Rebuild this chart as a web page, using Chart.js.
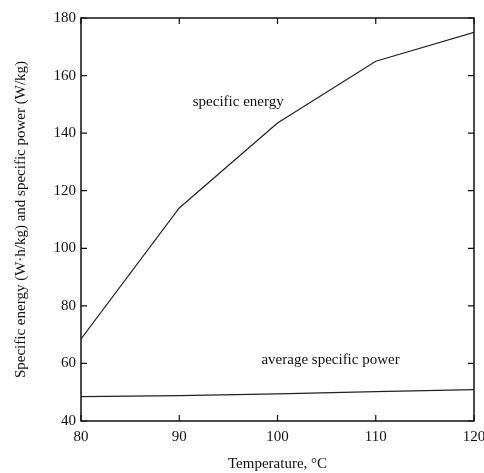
<!DOCTYPE html>
<html>
<head>
<meta charset="utf-8">
<script src="https://cdn.jsdelivr.net/npm/chart.js@4.4.1/dist/chart.umd.min.js"></script>
<style>
  html, body { margin: 0; padding: 0; background: #fff; }
  #wrap { width: 484px; height: 473px; }
</style>
</head>
<body>
<div id="wrap"><canvas id="battery-chart"></canvas></div>
<script>
const temperatures = [80, 90, 100, 110, 120];
const specificEnergy = [68.5, 114, 143.5, 165, 175];
const specificPower = [48.5, 48.8, 49.4, 50.2, 50.9];
const xTicks = [80, 90, 100, 110, 120];
const yTicks = [40, 60, 80, 100, 120, 140, 160, 180];

Chart.defaults.font.family = "'Liberation Serif', 'DejaVu Serif', serif";
Chart.defaults.color = "#111";

const toPoints = (ys) => temperatures.map((t, i) => ({ x: t, y: ys[i] }));

// frame round the plot plus short inward ticks on all four sides
const framePlugin = {
    id: "frame",
    afterDatasetsDraw(chart) {
        const { ctx, chartArea: a, scales } = chart;
        const len = 6;
        ctx.save();
        ctx.strokeStyle = "#111";
        ctx.lineWidth = 1.5;
        ctx.strokeRect(a.left, a.top, a.right - a.left, a.bottom - a.top);
        ctx.lineWidth = 1.2;
        ctx.beginPath();
        xTicks.forEach(v => {
            const px = scales.x.getPixelForValue(v);
            ctx.moveTo(px, a.bottom); ctx.lineTo(px, a.bottom - len);
            ctx.moveTo(px, a.top); ctx.lineTo(px, a.top + len);
        });
        yTicks.forEach(v => {
            const py = scales.y.getPixelForValue(v);
            ctx.moveTo(a.left, py); ctx.lineTo(a.left + len, py);
            ctx.moveTo(a.right, py); ctx.lineTo(a.right - len, py);
        });
        ctx.stroke();
        ctx.restore();
    }
};

// curve names written next to the lines
const labelPlugin = {
    id: "curveLabels",
    afterDatasetsDraw(chart, args, opts) {
        const { ctx, scales } = chart;
        ctx.save();
        ctx.font = "15px 'Liberation Serif', serif";
        ctx.fillStyle = "#111";
        ctx.textAlign = "center";
        ctx.textBaseline = "middle";
        opts.items.forEach(it => {
            ctx.fillText(it.text, scales.x.getPixelForValue(it.x), scales.y.getPixelForValue(it.y));
        });
        ctx.restore();
    }
};

const ctx = document.getElementById("battery-chart");

new Chart(ctx, {
    type: "line",
    data: {
        datasets: [
            {
                label: "specific energy",
                data: toPoints(specificEnergy),
                borderColor: "#222",
                borderWidth: 1.2,
                pointRadius: 0,
                tension: 0
            },
            {
                label: "average specific power",
                data: toPoints(specificPower),
                borderColor: "#222",
                borderWidth: 1.2,
                pointRadius: 0,
                tension: 0
            }
        ]
    },
    options: {
        responsive: true,
        maintainAspectRatio: false,
        animation: false,
        layout: {
            padding: { top: 18, right: 10, left: 0, bottom: 0 }
        },
        plugins: {
            legend: { display: false },
            tooltip: { enabled: false },
            curveLabels: {
                items: [
                    { text: "specific energy", x: 96, y: 150.8 },
                    { text: "average specific power", x: 105.4, y: 61.2 }
                ]
            }
        },
        scales: {
            x: {
                type: "linear",
                min: 80,
                max: 120,
                afterBuildTicks: (scale) => { scale.ticks = xTicks.map(v => ({ value: v })); },
                afterFit: (scale) => {
                    scale.height = 52;
                    // let the last label run off the edge instead of shrinking the plot
                    scale.paddingLeft = 0;
                    scale.paddingRight = 0;
                },
                grid: { display: false, drawTicks: false },
                border: { display: false },
                ticks: {
                    padding: 7,
                    maxRotation: 0,
                    font: { size: 15 },
                    color: "#111"
                },
                title: {
                    display: true,
                    text: "Temperature, °C",
                    font: { size: 15 },
                    color: "#111",
                    padding: { top: 4, bottom: 0 }
                }
            },
            y: {
                type: "linear",
                min: 40,
                max: 180,
                afterBuildTicks: (scale) => { scale.ticks = yTicks.map(v => ({ value: v })); },
                afterFit: (scale) => { scale.width = 81; },
                grid: { display: false, drawTicks: false },
                border: { display: false },
                ticks: {
                    padding: 5,
                    font: { size: 15 },
                    color: "#111"
                },
                title: {
                    display: true,
                    text: "Specific energy (W·h/kg) and specific power (W/kg)",
                    font: { size: 15 },
                    color: "#111",
                    padding: { top: 12, bottom: 0 }
                }
            }
        }
    },
    plugins: [framePlugin, labelPlugin]
});
</script>
</body>
</html>
